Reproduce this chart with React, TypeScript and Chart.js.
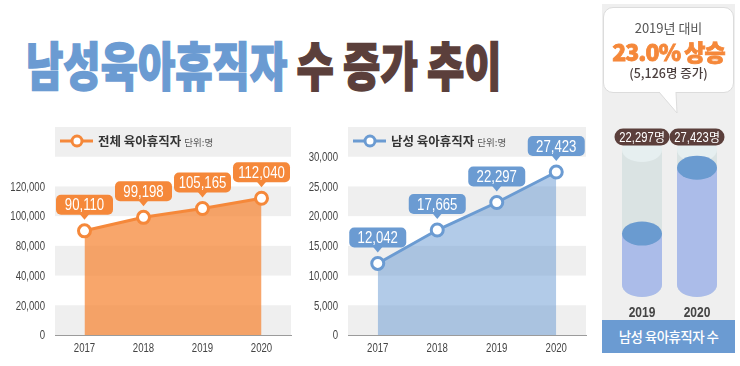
import React, { useEffect, useRef } from "react";
import { Chart, registerables, LinearScale } from "chart.js";

const years = ["2017", "2018", "2019", "2020"];
const totalValues = [90110, 99198, 105165, 112040];
const maleValues = [12042, 17665, 22297, 27423];
const totalStops = [0, 20000, 40000, 80000, 100000, 120000, 140000, 160000];
const totalTickValues = [0, 20000, 40000, 80000, 100000, 120000];
const maleStops = [0, 5000, 10000, 15000, 20000, 25000, 30000, 35000];
const maleTickValues = [0, 5000, 10000, 15000, 20000, 25000, 30000];
const compareYears = ["2019", "2020"];
const compareValues = [22297, 27423];
const compareMin = 18300;
const compareMax = 28800;

const SANS = "'Liberation Sans', Arial, sans-serif";
const KR = "'Noto Sans CJK KR', 'Noto Sans', sans-serif";
const ORANGE = "#f5883a";
const BLUE = "#6b9bd2";
const BROWN = "#5b3f3b";
const NARROW_X = 0.8;

class StopScale extends (LinearScale as any) {
  static id = "stops";
  getStops(): number[] {
    return (this as any).options.stops;
  }
  buildTicks() {
    const tv: number[] = (this as any).options.tickValues;
    return tv.map((v) => ({ value: v }));
  }
  getPixelForValue(value: number) {
    const s = this.getStops();
    const n = s.length - 1;
    let idx = 0;
    if (value >= s[n]) idx = n;
    else if (value > s[0]) {
      for (let i = 0; i < n; i++) {
        if (value <= s[i + 1]) {
          idx = i + (value - s[i]) / (s[i + 1] - s[i]);
          break;
        }
      }
    }
    return (this as any).getPixelForDecimal(idx / n);
  }
  getValueForPixel(pixel: number) {
    const s = this.getStops();
    const n = s.length - 1;
    const d = (this as any).getDecimalForPixel(pixel) * n;
    const i = Math.min(n - 1, Math.max(0, Math.floor(d)));
    return s[i] + (d - i) * (s[i + 1] - s[i]);
  }
}

Chart.register(...registerables, StopScale as any);

function narrowText(ctx: CanvasRenderingContext2D, text: string, x: number, y: number, align: CanvasTextAlign) {
  ctx.save();
  ctx.translate(x, y);
  ctx.scale(NARROW_X, 1);
  ctx.textAlign = align;
  ctx.fillText(text, 0, 0);
  ctx.restore();
}

function bandsPlugin(stops: number[]) {
  return {
    id: "bands",
    beforeDraw(chart: any) {
      const { ctx, chartArea } = chart;
      const y = chart.scales.y;
      ctx.save();
      ctx.fillStyle = "#efefef";
      for (let i = 0; i < stops.length - 1; i += 2) {
        const y0 = y.getPixelForValue(stops[i]);
        const y1 = y.getPixelForValue(stops[i + 1]);
        ctx.fillRect(chartArea.left, y1, chartArea.right - chartArea.left, y0 - y1);
      }
      ctx.restore();
    },
  };
}

const axisLabelsPlugin = {
  id: "axisLabels",
  afterDraw(chart: any) {
    const { ctx } = chart;
    const x = chart.scales.x;
    const y = chart.scales.y;
    ctx.save();
    ctx.fillStyle = "#444";
    ctx.font = `12px ${SANS}`;
    ctx.textBaseline = "middle";
    y.ticks.forEach((t: any) => {
      narrowText(ctx, Number(t.value).toLocaleString("en-US"), y.right - 10, y.getPixelForValue(t.value) + 1, "right");
    });
    x.ticks.forEach((t: any, i: number) => {
      narrowText(ctx, String(chart.data.labels[i]), x.getPixelForTick(i), x.top + 13.5, "center");
    });
    ctx.restore();
  },
};

function legendPlugin(title: string, unit: string, color: string) {
  return {
    id: "bandLegend",
    afterDraw(chart: any) {
      const { ctx, chartArea } = chart;
      const y = chartArea.top + 14;
      const x0 = chartArea.left + 5;
      ctx.save();
      ctx.strokeStyle = color;
      ctx.lineWidth = 3;
      ctx.beginPath();
      ctx.moveTo(x0, y);
      ctx.lineTo(x0 + 33, y);
      ctx.stroke();
      ctx.beginPath();
      ctx.arc(x0 + 17, y, 5, 0, Math.PI * 2);
      ctx.fillStyle = "#fff";
      ctx.fill();
      ctx.stroke();
      ctx.textBaseline = "middle";
      ctx.textAlign = "left";
      ctx.fillStyle = "#333";
      ctx.font = `bold 12.5px ${KR}`;
      ctx.fillText(title, x0 + 38, y);
      const w = ctx.measureText(title).width;
      ctx.fillStyle = "#555";
      ctx.font = `9.5px ${KR}`;
      ctx.fillText(unit, x0 + 38 + w + 3, y + 1);
      ctx.restore();
    },
  };
}

function calloutPlugin(values: number[], color: string) {
  return {
    id: "callouts",
    afterDatasetsDraw(chart: any) {
      const ctx = chart.ctx;
      const meta = chart.getDatasetMeta(0);
      ctx.save();
      ctx.font = `16.5px ${SANS}`;
      ctx.textBaseline = "middle";
      meta.data.forEach((pt: any, i: number) => {
        const txt = values[i].toLocaleString("en-US");
        const w = 57;
        const h = 20;
        const x = pt.x;
        const bottom = pt.y - 16;
        const top = bottom - h;
        ctx.fillStyle = color;
        ctx.beginPath();
        ctx.roundRect(x - w / 2, top, w, h, 5);
        ctx.fill();
        ctx.beginPath();
        ctx.moveTo(x - 5, bottom - 1);
        ctx.lineTo(x + 5, bottom - 1);
        ctx.lineTo(x, bottom + 5);
        ctx.closePath();
        ctx.fill();
        ctx.fillStyle = "#fff";
        narrowText(ctx, txt, x, top + h / 2 + 1, "center");
      });
      ctx.restore();
    },
  };
}

function makeLine(
  canvas: HTMLCanvasElement,
  values: number[],
  stops: number[],
  tickValues: number[],
  color: string,
  fill: string,
  title: string
) {
  return new Chart(canvas, {
    type: "line",
    data: {
      labels: years,
      datasets: [
        {
          data: values,
          borderColor: color,
          borderWidth: 3,
          backgroundColor: fill,
          fill: "origin",
          pointRadius: 6,
          pointBorderWidth: 3,
          pointBackgroundColor: "#fff",
          pointBorderColor: color,
          tension: 0,
        },
      ],
    },
    options: {
      responsive: false,
      animation: false,
      events: [],
      layout: { padding: { top: 12, right: 2, left: 0, bottom: 0 } },
      plugins: { legend: { display: false }, tooltip: { enabled: false } },
      scales: {
        x: {
          offset: true,
          grid: { display: false, drawTicks: false },
          border: { display: true, color: "#9b9b9b", width: 1 },
          ticks: { display: false },
          afterFit: (s: any) => {
            s.height = 31;
          },
        },
        y: {
          type: "stops",
          stops: stops,
          tickValues: tickValues,
          min: 0,
          max: stops[stops.length - 1],
          grid: { display: false, drawTicks: false },
          border: { display: false },
          ticks: { display: false, autoSkip: false },
          afterFit: (s: any) => {
            s.width = 55;
          },
        },
      } as any,
    },
    plugins: [bandsPlugin(stops), axisLabelsPlugin, legendPlugin(title, "단위:명", color), calloutPlugin(values, color)],
  } as any);
}

const cylinderPlugin = {
  id: "cylinders",
  afterDatasetsDraw(chart: any) {
    const { ctx, chartArea } = chart;
    const meta = chart.getDatasetMeta(0);
    const xs = chart.scales.x;
    const ry = 12;
    ctx.save();
    meta.data.forEach((bar: any, i: number) => {
      const x = bar.x;
      const rx = bar.width / 2;
      const base = bar.base;
      const top = chartArea.top;
      // empty tube
      ctx.fillStyle = "#dae3e3";
      ctx.beginPath();
      ctx.ellipse(x, base, rx, ry, 0, 0, Math.PI * 2);
      ctx.fill();
      ctx.fillRect(x - rx, top, rx * 2, base - top);
      ctx.fillStyle = "#e6eff0";
      ctx.beginPath();
      ctx.ellipse(x, top, rx, ry, 0, 0, Math.PI * 2);
      ctx.fill();
      // filled part
      ctx.fillStyle = "#abbce9";
      ctx.beginPath();
      ctx.ellipse(x, base, rx, ry, 0, 0, Math.PI * 2);
      ctx.fill();
      ctx.fillRect(x - rx, bar.y, rx * 2, base - bar.y);
      ctx.fillStyle = "#6a9bd0";
      ctx.beginPath();
      ctx.ellipse(x, bar.y, rx, ry, 0, 0, Math.PI * 2);
      ctx.fill();
      // value pill
      const pw = 55;
      const ph = 17;
      const py = top - 13;
      ctx.fillStyle = BROWN;
      ctx.beginPath();
      ctx.roundRect(x - pw / 2, py - ph / 2, pw, ph, ph / 2);
      ctx.fill();
      ctx.fillStyle = "#fff";
      ctx.textBaseline = "middle";
      const numTxt = compareValues[i].toLocaleString("en-US");
      ctx.font = `14px ${SANS}`;
      const nw = ctx.measureText(numTxt).width * NARROW_X;
      ctx.font = `12px ${KR}`;
      const mw = ctx.measureText("명").width;
      const startX = x - (nw + mw) / 2;
      ctx.font = `14px ${SANS}`;
      narrowText(ctx, numTxt, startX, py + 1, "left");
      ctx.font = `12px ${KR}`;
      ctx.textAlign = "left";
      ctx.fillText("명", startX + nw + 0.5, py + 0.5);
      // year label
      ctx.fillStyle = "#444";
      ctx.font = `bold 15px ${SANS}`;
      narrowText(ctx, String(chart.data.labels[i]), xs.getPixelForTick(i), chartArea.bottom + 28, "center");
    });
    ctx.restore();
  },
};

function makeCylinders(canvas: HTMLCanvasElement) {
  return new Chart(canvas, {
    type: "bar",
    data: {
      labels: compareYears,
      datasets: [
        {
          data: compareValues,
          base: compareMin,
          backgroundColor: "rgba(0,0,0,0)",
          categoryPercentage: 1,
          barPercentage: 0.727,
        },
      ],
    },
    options: {
      responsive: false,
      animation: false,
      events: [],
      layout: { padding: { top: 50, left: 12.5, right: 10.5, bottom: 35 } },
      plugins: { legend: { display: false }, tooltip: { enabled: false } },
      scales: {
        x: { display: false },
        y: { display: false, min: compareMin, max: compareMax },
      },
    },
    plugins: [cylinderPlugin],
  } as any);
}

export default function App() {
  const leftRef = useRef<HTMLCanvasElement>(null);
  const rightRef = useRef<HTMLCanvasElement>(null);
  const cylRef = useRef<HTMLCanvasElement>(null);

  useEffect(() => {
    const charts = [
      makeLine(leftRef.current!, totalValues, totalStops, totalTickValues, ORANGE, "rgba(245,136,58,0.75)", "전체 육아휴직자"),
      makeLine(rightRef.current!, maleValues, maleStops, maleTickValues, BLUE, "rgba(107,155,210,0.52)", "남성 육아휴직자"),
      makeCylinders(cylRef.current!),
    ];
    return () => charts.forEach((c) => c.destroy());
  }, []);

  return (
    <div
      style={{
        position: "absolute",
        left: 0,
        top: 0,
        width: 740,
        height: 366,
        background: "#fff",
        overflow: "hidden",
        fontFamily: KR,
      }}
    >
      <div
        style={{
          position: "absolute",
          left: 26,
          top: 38,
          fontSize: 52,
          lineHeight: "52px",
          fontWeight: 900,
          whiteSpace: "nowrap",
          transform: "scaleX(0.78)",
          transformOrigin: "left top",
        }}
      >
        <span style={{ color: BLUE, WebkitTextStroke: `1.5px ${BLUE}` }}>남성육아휴직자</span>
        <span style={{ color: BROWN, WebkitTextStroke: `1.5px ${BROWN}` }}> 수 증가 추이</span>
      </div>

      <canvas ref={leftRef} width={300} height={251} style={{ position: "absolute", left: 0, top: 115 }} />
      <canvas ref={rightRef} width={302} height={251} style={{ position: "absolute", left: 293, top: 115 }} />

      <div style={{ position: "absolute", left: 602, top: 4, width: 133, height: 349, background: "#efefef" }} />
      <canvas ref={cylRef} width={133} height={220} style={{ position: "absolute", left: 602, top: 100 }} />

      <div
        style={{
          position: "absolute",
          left: 603,
          top: 7,
          width: 131,
          height: 86,
          boxSizing: "border-box",
          background: "#fff",
          border: "1px solid #dcdcdc",
          borderRadius: 10,
        }}
      />
      <svg style={{ position: "absolute", left: 0, top: 0 }} width={740} height={366} viewBox="0 0 740 366">
        <polygon points="659,91.5 677,113 676,91.5" fill="#fff" />
        <polyline points="659,92 677,113 676,92" fill="none" stroke="#dcdcdc" strokeWidth={1} />
      </svg>
      <div
        style={{
          position: "absolute",
          left: 603,
          top: 19,
          width: 131,
          textAlign: "center",
          fontSize: 13,
          lineHeight: "18px",
          color: "#555",
          whiteSpace: "nowrap",
        }}
      >
        2019년 대비
      </div>
      <div
        style={{
          position: "absolute",
          left: 603,
          top: 37,
          width: 131,
          textAlign: "center",
          fontSize: 23,
          lineHeight: "28px",
          fontWeight: 900,
          color: ORANGE,
          whiteSpace: "nowrap",
          letterSpacing: -1,
          WebkitTextStroke: `0.8px ${ORANGE}`,
        }}
      >
        23.0% 상승
      </div>
      <div
        style={{
          position: "absolute",
          left: 603,
          top: 64,
          width: 131,
          textAlign: "center",
          fontSize: 12.5,
          lineHeight: "18px",
          fontWeight: 500,
          color: "#4b3f3e",
          whiteSpace: "nowrap",
        }}
      >
        (5,126명 증가)
      </div>

      <div
        style={{
          position: "absolute",
          left: 602,
          top: 320,
          width: 133,
          height: 33,
          background: BLUE,
          color: "#fff",
          fontSize: 13.5,
          lineHeight: "33px",
          textAlign: "center",
          fontWeight: 500,
          whiteSpace: "nowrap",
          letterSpacing: -0.6,
        }}
      >
        남성 육아휴직자 수
      </div>
    </div>
  );
}
